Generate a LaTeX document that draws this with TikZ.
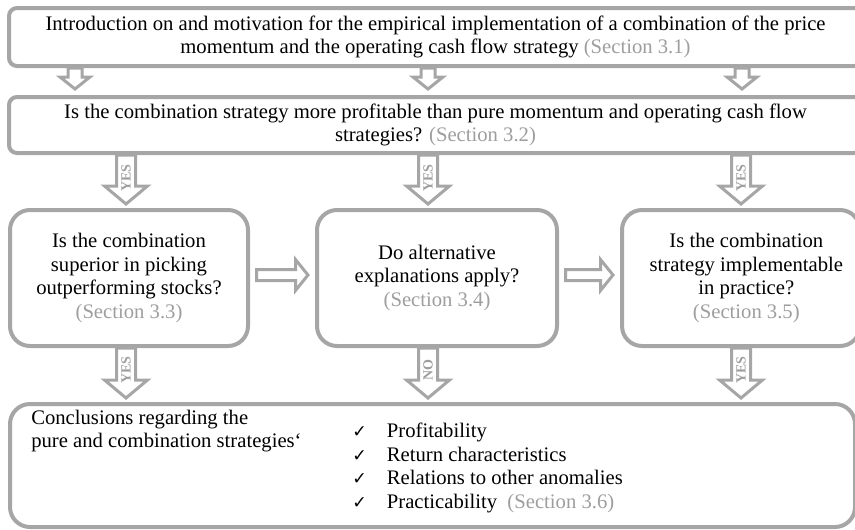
\documentclass[tikz,border=0pt]{standalone}
\usepackage{fontspec}
\setmainfont{Liberation Serif}
\newfontfamily\symfont{DejaVu Sans}
\usetikzlibrary{calc}

\definecolor{linegray}{RGB}{166,166,166}
\definecolor{secgray}{RGB}{158,158,158}
\newcommand\txt{\fontsize{15.5}{17.8}\selectfont}
\newcommand\sect[1]{\textcolor{secgray}{(Section #1)}}
\newcommand\chk{\makebox[26pt][l]{\symfont\fontsize{13}{13}\selectfont ✓}}

% downward block arrow: from, to, half shaft, half head, head length, gap before target
\newcommand\dblock[6]{%
  \draw[blk] ($(#1)+(-#3,0)$) -- ($(#2)+(-#3,-#6-#5)$) -- ($(#2)+(-#4,-#6-#5)$)
    -- ($(#2)+(0,-#6)$) -- ($(#2)+(#4,-#6-#5)$) -- ($(#2)+(#3,-#6-#5)$)
    -- ($(#1)+(#3,0)$) -- cycle;}
% rightward block arrow: from, to, half shaft, half head, head length, start gap, end gap
\newcommand\rblock[7]{%
  \draw[blk] ($(#1)+(#6,-#3)$) -- ($(#2)+(-#7-#5,-#3)$) -- ($(#2)+(-#7-#5,-#4)$)
    -- ($(#2)+(-#7,0)$) -- ($(#2)+(-#7-#5,#4)$) -- ($(#2)+(-#7-#5,#3)$)
    -- ($(#1)+(#6,#3)$) -- cycle;}

\begin{document}
\begin{tikzpicture}[x=0.75pt,y=-0.75pt,
  box/.style={draw=linegray,line width=3pt,fill=white,inner sep=0pt,align=center,font=\txt},
  wbox/.style={box,rounded corners=6pt},
  mbox/.style={box,rounded corners=15pt,minimum width=178.5pt,minimum height=102pt},
  plain/.style={inner sep=0pt,font=\txt},
  blk/.style={draw=linegray,line width=2.25pt,fill=white,line join=miter},
  lbl/.style={inner sep=0pt,rotate=90,text=secgray,font=\fontsize{10.5}{10.5}\selectfont\bfseries}]

\useasboundingbox (0,0) rectangle (855,529);
\clip (0,0) rectangle (855,529);

% boxes
\node[wbox,minimum width=639.75pt,minimum height=43.5pt] (intro) at (435.5,37)
  {Introduction on and motivation for the empirical implementation of a combination of the price\\
   momentum and the operating cash flow strategy \sect{3.1}};
\node[wbox,minimum width=639.75pt,minimum height=42pt] (profit) at (435.5,125)
  {Is the combination strategy more profitable than pure momentum and operating cash flow\\
   strategies? \sect{3.2}};
\node[mbox] (pick) at (129,278)
  {Is the combination\\ superior in picking\\ outperforming stocks?\\ \sect{3.3}};
\node[mbox,minimum width=180pt] (alt) at (437,278)
  {Do alternative\\ explanations apply?\\ \sect{3.4}};
\node[mbox] (impl) at (741,278)
  {\hspace*{8pt}Is the combination\\ \hspace*{8pt}strategy implementable\\ \hspace*{8pt}in practice?\\ \hspace*{8pt}\sect{3.5}};
\node[box,rounded corners=15pt,minimum width=633.75pt,minimum height=92.25pt] (concl) at (432.5,465.5) {};

\node[plain,anchor=west,align=left] (cltext) at (31,431)
  {Conclusions regarding the\\ pure and combination strategies‘};
\node[plain,anchor=west,align=left] (items) at (352,468)
  {\chk Profitability\\
   \chk Return characteristics\\
   \chk Relations to other anomalies\\
   \chk Practicability \ \sect{3.6}};

% column positions of the arrows
\coordinate (x1) at (75,0);
\coordinate (x2) at (428,0);
\coordinate (x3) at (742,0);
\coordinate (y1) at (126,0);
\coordinate (y2) at (428,0);
\coordinate (y3) at (741,0);

% intro -> profitability question
\foreach \i in {1,2,3}{
  \coordinate (ta\i) at (intro.south -| x\i);
  \coordinate (tb\i) at (profit.north -| x\i);
  \dblock{ta\i}{tb\i}{7}{15}{12}{6}
}

% profitability question -> three sub-questions
\coordinate (ma1) at (profit.south -| y1);
\coordinate (mb1) at (pick.north -| y1);
\coordinate (ma2) at (profit.south -| y2);
\coordinate (mb2) at (alt.north -| y2);
\coordinate (ma3) at (profit.south -| y3);
\coordinate (mb3) at (impl.north -| y3);
\foreach \i in {1,2,3}{
  \dblock{ma\i}{mb\i}{9.5}{21.5}{18}{4}
  \node[lbl] at ($(ma\i)+(0,23)$) {YES};
}

% sub-questions -> conclusions
\coordinate (la1) at (pick.south -| y1);
\coordinate (la2) at (alt.south -| y2);
\coordinate (la3) at (impl.south -| y3);
\foreach \i in {1,2,3}{
  \coordinate (lb\i) at (concl.north -| la\i);
  \dblock{la\i}{lb\i}{9.5}{21.5}{18}{4}
}
\node[lbl] at ($(la1)+(0,22)$) {YES};
\node[lbl] at ($(la2)+(0,22)$) {NO};
\node[lbl] at ($(la3)+(0,22)$) {YES};

% links between the sub-questions
\coordinate (ha) at ($(pick.east)+(0,-3)$);
\coordinate (hb) at ($(alt.west)+(0,-3)$);
\coordinate (hc) at ($(alt.east)+(0,-3)$);
\coordinate (hd) at ($(impl.west)+(0,-3)$);
\rblock{ha}{hb}{5.5}{15.5}{12.5}{6.5}{7}
\rblock{hc}{hd}{5.5}{15.5}{12.5}{6.5}{7}

\end{tikzpicture}
\end{document}
